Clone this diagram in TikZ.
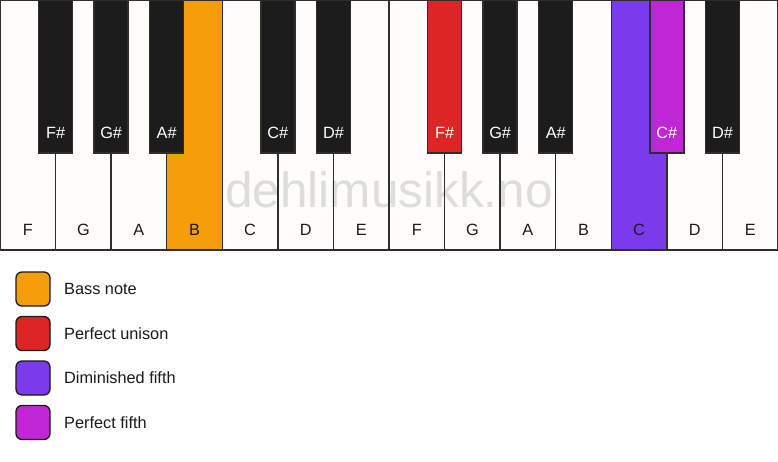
\documentclass[tikz,border=0pt]{standalone}
\usepackage{fontspec}
\setmainfont{Liberation Sans}
\definecolor{wk}{HTML}{FEFDFA}
\definecolor{bk}{HTML}{1C1C1C}
\definecolor{outl}{HTML}{2E2E2E}
\definecolor{cbass}{HTML}{F59E0B}
\definecolor{cuni}{HTML}{DC2626}
\definecolor{cdim}{HTML}{7C3AED}
\definecolor{cfifth}{HTML}{C026D3}
\definecolor{wmgray}{HTML}{DDDDDD}
\definecolor{txt}{HTML}{1A1A1A}
\begin{document}
\begin{tikzpicture}[x=1pt,y=-1pt,
  whitekey/.style={draw=outl,line width=1.4pt,minimum width=55.571pt,minimum height=250pt,inner sep=0pt,outer sep=0pt},
  blackkey/.style={draw=outl,line width=1.4pt,minimum width=34pt,minimum height=153pt,inner sep=0pt,outer sep=0pt},
  wlabel/.style={font=\fontsize{16.3}{19}\selectfont,text=txt,inner sep=0pt},
  blabel/.style={font=\fontsize{16.3}{19}\selectfont,text=white,inner sep=0pt},
  legbox/.style={draw=txt,line width=1.3pt,rounded corners=6pt,minimum size=34pt,inner sep=0pt},
  legtext/.style={font=\fontsize{16.3}{19}\selectfont,text=txt,anchor=west,inner sep=0pt},
  wm/.style={font=\fontsize{49.5}{54}\selectfont,text=wmgray,inner sep=0pt,anchor=base}
]
\useasboundingbox (0,0) rectangle (778,461);
\fill[white] (0,0) rectangle (778,461);
% white keys
\foreach \i/\n/\c in {0/F/wk,1/G/wk,2/A/wk,3/B/cbass,4/C/wk,5/D/wk,6/E/wk,7/F/wk,8/G/wk,9/A/wk,10/B/wk,11/C/cdim,12/D/wk,13/E/wk}{
  \node[whitekey,fill=\c] (w\i) at ({(\i+0.5)*55.571},125) {};
}
% watermark
\node[wm] (wm) at (389,207) {dehlimusikk.no};
\foreach \i in {0,...,13}{
  \draw[outl,line width=1.4pt] (w\i.north west) rectangle (w\i.south east);
}
\foreach \i/\n in {0/F,1/G,2/A,3/B,4/C,5/D,6/E,7/F,8/G,9/A,10/B,11/C,12/D,13/E}{
  \node[wlabel] (wl\i) at ({(\i+0.5)*55.571},230) {\n};
}
% black keys
\foreach \i/\n/\c in {1/F\#/bk,2/G\#/bk,3/A\#/bk,5/C\#/bk,6/D\#/bk,8/F\#/cuni,9/G\#/bk,10/A\#/bk,12/C\#/cfifth,13/D\#/bk}{
  \node[blackkey,fill=\c] (b\i) at ({\i*55.571},76.5) {};
  \node[blabel] (bl\i) at ({\i*55.571},133) {\n};
}
% legend
\node[legbox,fill=cbass] (lg1) at (33,289) {};
\node[legtext] (lt1) at (64,289) {Bass note};
\node[legbox,fill=cuni] (lg2) at (33,333.5) {};
\node[legtext] (lt2) at (64,333.5) {Perfect unison};
\node[legbox,fill=cdim] (lg3) at (33,378) {};
\node[legtext] (lt3) at (64,378) {Diminished fifth};
\node[legbox,fill=cfifth] (lg4) at (33,422.5) {};
\node[legtext] (lt4) at (64,422.5) {Perfect fifth};
\end{tikzpicture}
\end{document}
